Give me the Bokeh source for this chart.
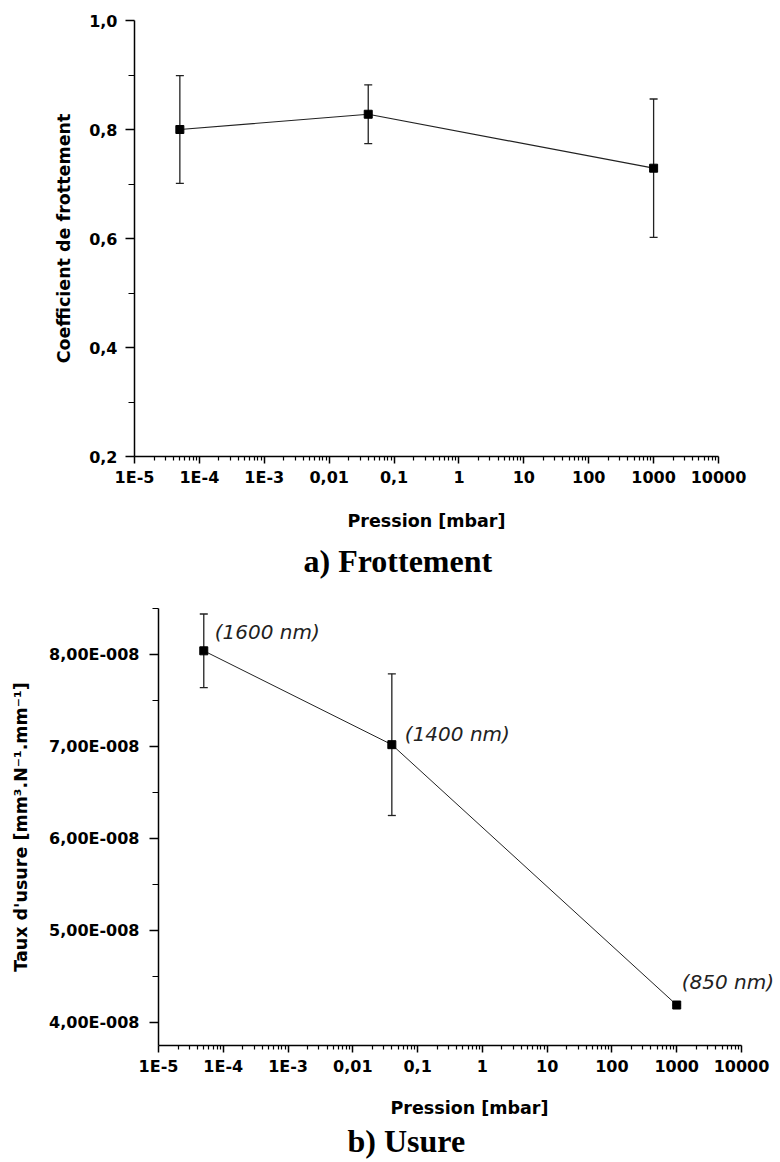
from bokeh.plotting import figure
from bokeh.models import Range1d, FixedTicker, ColumnDataSource, Whisker, TeeHead, LabelSet
from bokeh.layouts import column
from bokeh.embed import file_html
from bokeh.resources import INLINE
from bokeh.core.properties import value

# ---------------- data ----------------
pression = [5e-5, 0.04, 1000.0]
frottement = [0.80, 0.828, 0.729]
frottement_err = [0.099, 0.054, 0.127]
usure = [8.04e-8, 7.02e-8, 4.19e-8]
usure_err = [0.40e-8, 0.77e-8, 0.0]
epaisseur = ["(1600 nm)", "(1400 nm)", "(850 nm)"]

x_ticks = [1e-5, 1e-4, 1e-3, 0.01, 0.1, 1.0, 10.0, 100.0, 1000.0, 10000.0]
x_tick_labels = ["1E-5", "1E-4", "1E-3", "0,01", "0,1", "1", "10", "100", "1000", "10000"]
y1_ticks = [0.2, 0.4, 0.6, 0.8, 1.0]
y1_tick_labels = ["0,2", "0,4", "0,6", "0,8", "1,0"]
y1_minor = [0.3, 0.5, 0.7, 0.9]
y2_ticks = [4e-8, 5e-8, 6e-8, 7e-8, 8e-8]
y2_tick_labels = ["4,00E-008", "5,00E-008", "6,00E-008", "7,00E-008", "8,00E-008"]
y2_minor = [4.5e-8, 5.5e-8, 6.5e-8, 7.5e-8, 8.5e-8]

# label pixel offsets (layout only)
label_dx = [11, 13, 5]
label_dy = [19, 11, 23]

x_minor = [m * 10.0 ** e for e in range(-5, 4) for m in range(2, 10)]

SANS = "DejaVu Sans"


def style(p, yticks, ylabels, yminor, ylabel, lab_stand, ylab_stand, xlab_stand):
    p.frame_align = False
    p.background_fill_color = "white"
    p.border_fill_color = "white"
    p.outline_line_color = None
    p.xgrid.visible = False
    p.ygrid.visible = False
    p.xaxis.ticker = FixedTicker(ticks=x_ticks, minor_ticks=x_minor)
    p.xaxis.major_label_overrides = dict(zip(x_ticks, x_tick_labels))
    p.xaxis.bounds = (1e-5, 1e4)
    p.yaxis.ticker = FixedTicker(ticks=yticks, minor_ticks=yminor)
    p.yaxis.major_label_overrides = dict(zip(yticks, ylabels))
    for ax in (p.xaxis[0], p.yaxis[0]):
        ax.axis_line_color = "black"
        ax.axis_line_width = 1.5
        ax.major_tick_line_color = "black"
        ax.major_tick_line_width = 1.5
        ax.minor_tick_line_color = "black"
        ax.minor_tick_line_width = 1.2
        ax.major_tick_in = 0
        ax.minor_tick_in = 0
        ax.major_label_text_font = SANS
        ax.major_label_text_font_style = "bold"
        ax.major_label_text_font_size = "16px"
        ax.major_label_text_color = "black"
        ax.axis_label_text_font = SANS
        ax.axis_label_text_font_style = "bold"
        ax.axis_label_text_font_size = "17.5px"
        ax.axis_label_text_color = "black"
    xa = p.xaxis[0]
    xa.major_tick_out = 7
    xa.minor_tick_out = 4
    xa.major_label_standoff = 4
    xa.axis_label = "Pression [mbar]"
    xa.axis_label_standoff = xlab_stand
    ya = p.yaxis[0]
    ya.major_tick_out = 9
    ya.minor_tick_out = 6
    ya.major_label_standoff = lab_stand
    ya.axis_label = ylabel
    ya.axis_label_standoff = ylab_stand
    p.title.text_font = "Liberation Serif"
    p.title.text_font_style = "bold"
    p.title.text_font_size = "32px"
    p.title.text_color = "black"
    p.title.align = "left"


# ---------------- a) Frottement ----------------
p1 = figure(width=780, height=598, x_axis_type="log",
            x_range=Range1d(1e-5, 1e4), y_range=Range1d(0.2, 1.0),
            output_backend="svg", toolbar_location=None,
            min_border_left=134, min_border_right=62,
            min_border_top=20, min_border_bottom=142,
            title="a) Frottement", title_location="below")
style(p1, y1_ticks, y1_tick_labels, y1_minor, "Coefficient de frottement", 8, 12, 21)
p1.title.offset = 169
p1.title.standoff = 15

src1 = ColumnDataSource(dict(
    x=pression, y=frottement,
    lower=[v - e for v, e in zip(frottement, frottement_err)],
    upper=[v + e for v, e in zip(frottement, frottement_err)]))
p1.add_layout(Whisker(base="x", upper="upper", lower="lower", source=src1,
                      line_color="#222222", line_width=1.3,
                      upper_head=TeeHead(size=8, line_color="#222222", line_width=1.3),
                      lower_head=TeeHead(size=8, line_color="#222222", line_width=1.3)))
p1.line("x", "y", source=src1, line_color="#222222", line_width=1.2)
p1.scatter("x", "y", source=src1, marker="square", size=8, color="black")

# ---------------- b) Usure ----------------
# frame runs 39 px past the 1E4 tick (0.602 decade) so the last label is not clipped
p2 = figure(width=780, height=564, x_axis_type="log",
            x_range=Range1d(1e-5, 10 ** 4.602), y_range=Range1d(3.75e-8, 8.5e-8),
            output_backend="svg", toolbar_location=None,
            min_border_left=158, min_border_right=0,
            min_border_top=10, min_border_bottom=117,
            title="b) Usure", title_location="below")
style(p2, y2_ticks, y2_tick_labels, y2_minor,
      "Taux d'usure [mm\u00b3.N\u207b\u00b9.mm\u207b\u00b9]", 10, 15, 19)
p2.title.offset = 189
p2.title.standoff = 1

src2 = ColumnDataSource(dict(
    x=pression, y=usure, label=epaisseur, dx=label_dx, dy=label_dy,
    lower=[v - e for v, e in zip(usure, usure_err)],
    upper=[v + e for v, e in zip(usure, usure_err)]))
p2.add_layout(Whisker(base="x", upper="upper", lower="lower", source=src2,
                      line_color="#222222", line_width=1.3,
                      upper_head=TeeHead(size=8, line_color="#222222", line_width=1.3),
                      lower_head=TeeHead(size=8, line_color="#222222", line_width=1.3)))
p2.line("x", "y", source=src2, line_color="#222222", line_width=1.0)
p2.scatter("x", "y", source=src2, marker="square", size=8, color="black")
p2.add_layout(LabelSet(x="x", y="y", text="label", x_offset="dx", y_offset="dy",
                       source=src2, text_font=value(SANS), text_font_style="italic",
                       text_font_size="20px", text_color="#222222",
                       text_baseline="middle", text_align="left"))

layout = column(p1, p2, spacing=0)
open("out.html", "w").write(file_html(layout, INLINE))
